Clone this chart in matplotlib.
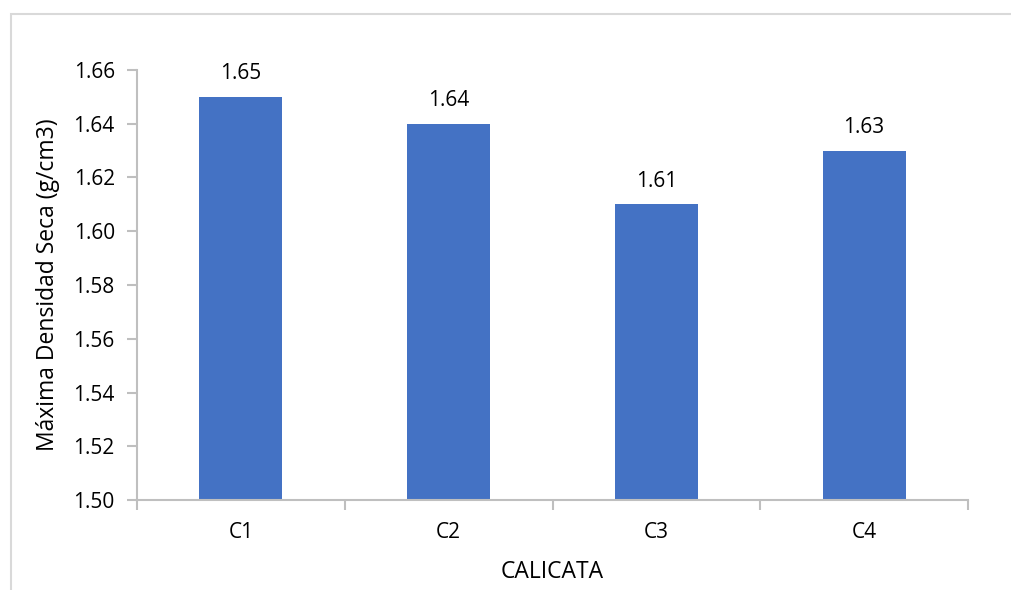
import matplotlib.pyplot as plt
from matplotlib.patches import Rectangle

plt.rcParams['font.family'] = ['Open Sans', 'DejaVu Sans']

categories = ['C1', 'C2', 'C3', 'C4']
densidad = [1.65, 1.64, 1.61, 1.63]
y_ticks = [1.50, 1.52, 1.54, 1.56, 1.58, 1.60, 1.62, 1.64, 1.66]

W, H = 1011, 590
fig = plt.figure(figsize=(W / 100, H / 100), dpi=100)

# outer chart-area border
fig.patches.append(Rectangle((11 / W, -0.1), 1.1, (H - 14) / H + 0.1,
                             transform=fig.transFigure, fill=False,
                             edgecolor='#D9D9D9', linewidth=1.5))

left, right, top, bottom = 137, 968, 70, 500
ax = fig.add_axes([left / W, 1 - bottom / H, (right - left) / W, (bottom - top) / H])

x = list(range(len(categories)))
ax.bar(x, densidad, width=0.4, color='#4472C4', zorder=2)

ax.set_xlim(-0.5, len(categories) - 0.5)
ax.set_ylim(1.50, 1.66)
ax.set_yticks(y_ticks)
ax.set_yticklabels([f'{v:.2f}' for v in y_ticks])
ax.set_xticks(x)
ax.set_xticklabels(categories)

# category boundary ticks on the x axis
ax.set_xticks([i - 0.5 for i in range(len(categories) + 1)], minor=True)
ax.tick_params(axis='x', which='major', length=0, pad=16, labelsize=15)
ax.tick_params(axis='x', which='minor', length=7, width=1.5, color='#BFBFBF')
ax.tick_params(axis='y', length=7, width=1.5, color='#BFBFBF', pad=9, labelsize=15)

for s in ('top', 'right'):
    ax.spines[s].set_visible(False)
for s in ('left', 'bottom'):
    ax.spines[s].set_color('#BFBFBF')
    ax.spines[s].set_linewidth(1.5)

for xi, v in zip(x, densidad):
    ax.annotate(f'{v:.2f}', (xi, v), xytext=(0, 9), textcoords='offset points',
                ha='center', va='bottom', fontsize=15, color='#000000')

ax.set_ylabel('Máxima Densidad Seca (g/cm3)', fontsize=16.5, labelpad=10)
ax.set_xlabel('CALICATA', fontsize=16.5, labelpad=12)

fig.savefig('out.png', dpi=100)
